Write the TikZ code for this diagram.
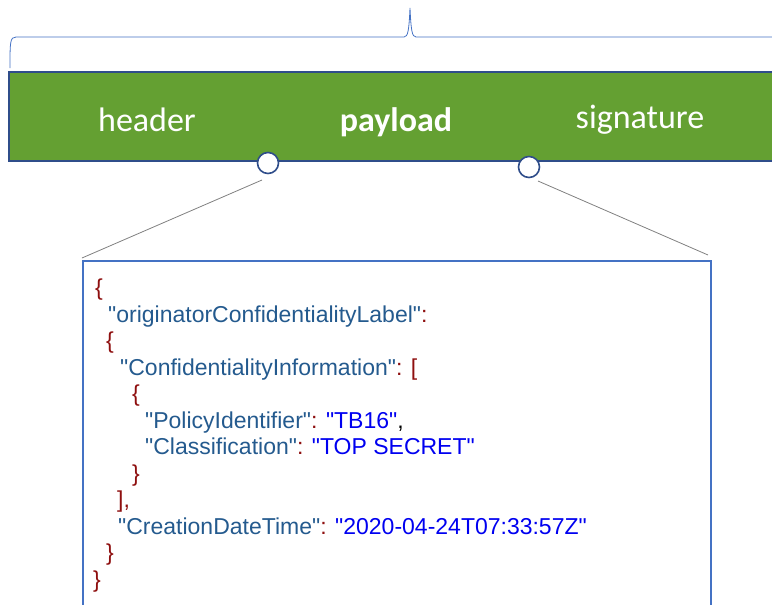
\documentclass[tikz,border=0pt]{standalone}
\usepackage{fontspec}
\setmainfont{Liberation Sans}[Ligatures=TeXOff]
\newfontfamily\calfont{Carlito}
\usepackage{tikz}

\definecolor{barGreen}{HTML}{64A032}
\definecolor{barEdge}{HTML}{2F4D8A}
\definecolor{boxEdge}{HTML}{4472C4}
\definecolor{keyBlue}{HTML}{245A8E}
\definecolor{valBlue}{HTML}{0000F0}
\definecolor{punRed}{HTML}{8E0F0F}

\newcommand{\jk}[1]{\textcolor{keyBlue}{#1}}
\newcommand{\jv}[1]{\textcolor{valBlue}{#1}}
\newcommand{\jp}[1]{\textcolor{punRed}{#1}}

\tikzset{
  partlabel/.style={text=white, anchor=base, inner sep=0pt, font=\calfont\fontsize{34}{40}\selectfont},
  knob/.style={circle, draw=barEdge, fill=white, line width=1.6pt, minimum size=21pt, inner sep=0pt},
  zoomline/.style={draw=gray, line width=0.8pt},
  codeline/.style={anchor=base west, inner sep=0pt, font=\fontsize{23}{27}\selectfont}
}

\begin{document}
\begin{tikzpicture}[x=1pt, y=-1pt]
				\useasboundingbox (0,0) rectangle (772,605);
				
				% Brace over the token
				\draw[boxEdge, line width=0.8pt] (10,68) .. controls (10,42) and (10,37) .. (16,37)
				  -- (404,37) .. controls (408,37) and (409,30) .. (410,8)
				  .. controls (411,30) and (412,37) .. (416,37) -- (780,37);
				
				% Green bar with the three parts
				\node[draw=barEdge, fill=barGreen, line width=1.6pt, minimum width=800pt, minimum height=89pt, anchor=north west, inner sep=0pt] (bar) at (8,71) {};
				\node[partlabel] (header) at (147,131) {header};
				\node[partlabel] (payload) at (396,131) {\bfseries payload};
				\node[partlabel] (signature) at (640,128) {signature};
				
				% Markers on the bar
				\node[knob] (pin1) at (268,163) {};
				\node[knob] (pin2) at (529,167) {};
				
				% Box with the decoded payload
				\node[draw=boxEdge, line width=1.6pt, minimum width=628pt, minimum height=400pt, anchor=north west, inner sep=0pt] (box) at (82,260) {};
				
				% Zoom lines
				\coordinate (tail1) at (262,180);
				\coordinate (tail2) at (538,181);
				\coordinate (head1) at (82,258);
				\coordinate (head2) at (708,255);
				\draw[zoomline] (tail1) -- (head1);
				\draw[zoomline] (tail2) -- (head2);
				
				% JSON lines
				\node[codeline] (j1) at (95,295.5) {\jp{\{}};
				\node[codeline] (j2) at (108,322) {\jk{"originatorConfidentialityLabel"}\jp{:}};
				\node[codeline] (j3) at (106,348.5) {\jp{\{}};
				\node[codeline] (j4) at (120,375) {\jk{"ConfidentialityInformation"}\jp{: [}};
				\node[codeline] (j5) at (132,401.5) {\jp{\{}};
				\node[codeline] (j6) at (145,428) {\jk{"PolicyIdentifier"}\jp{: }\jv{"TB16"},};
				\node[codeline] (j7) at (145,454.5) {\jk{"Classification"}\jp{: }\jv{"TOP SECRET"}};
				\node[codeline] (j8) at (132,481) {\jp{\}}};
				\node[codeline] (j9) at (117,507.5) {\jp{],}};
				\node[codeline] (j10) at (118,534) {\jk{"CreationDateTime"}\jp{: }\jv{"2020-04-24T07:33:57Z"}};
				\node[codeline] (j11) at (106,560.5) {\jp{\}}};
				\node[codeline] (j12) at (93,587) {\jp{\}}};
			\end{tikzpicture}
\end{document}
